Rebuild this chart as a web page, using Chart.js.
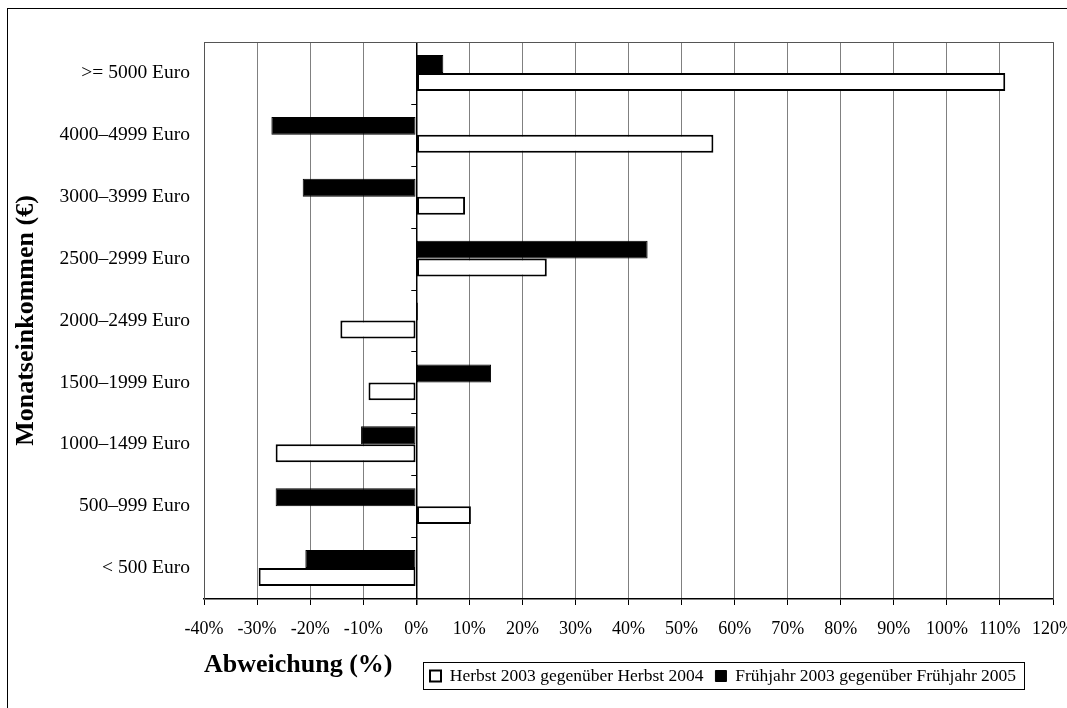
<!DOCTYPE html>
<html>
<head>
<meta charset="utf-8">
<script src="https://cdn.jsdelivr.net/npm/chart.js@4.4.1/dist/chart.umd.min.js"></script>
<style>
  html, body { margin: 0; padding: 0; background: #fff; }
  #wrap { width: 1067px; height: 708px; }
</style>
</head>
<body>
<div id="wrap"><canvas id="chart"></canvas></div>
<script>
// Werte
const categories = [
  '>= 5000 Euro', '4000–4999 Euro', '3000–3999 Euro', '2500–2999 Euro',
  '2000–2499 Euro', '1500–1999 Euro', '1000–1499 Euro', '500–999 Euro', '< 500 Euro'
];
const herbst = [111, 56, 9.2, 24.6, -14.3, -9.0, -26.5, 10.3, -29.7];
const fruehjahr = [5.1, -27.3, -21.4, 43.6, 0.3, 14.1, -10.4, -26.5, -20.9];
const seriesNames = ['Herbst 2003 gegenüber Herbst 2004', 'Frühjahr 2003 gegenüber Frühjahr 2005'];
const xMin = -40, xMax = 120, xStep = 10;

const serif = 'Liberation Serif';
const legendSize = 17.5;
const legendPad = 12;

const extras = {
  id: 'extras',
  beforeDraw(chart) {
    const ctx = chart.ctx;
    ctx.save();
    ctx.strokeStyle = '#000';
    ctx.lineWidth = 1;
    ctx.strokeRect(7.5, 8.5, chart.width + 20, chart.height + 20);
    ctx.restore();
  },
  afterLayout(chart) {
    // Legende neben den Achsentitel schieben
    const lg = chart.legend;
    const h = lg.height, w = lg.width;
    lg.top = 676 - legendPad - legendSize / 2;
    lg.bottom = lg.top + h;
    lg.left = 430 - legendPad;
    lg.right = lg.left + w;
  },
  afterDraw(chart) {
    const ctx = chart.ctx;
    const a = chart.chartArea;
    const x = chart.scales.x, y = chart.scales.y;
    ctx.save();
    // Rahmen oben und rechts
    ctx.strokeStyle = '#555';
    ctx.lineWidth = 1;
    ctx.beginPath();
    ctx.moveTo(a.left, a.top + 0.5);
    ctx.lineTo(a.right + 0.5, a.top + 0.5);
    ctx.lineTo(a.right + 0.5, a.bottom);
    ctx.stroke();
    // Teilstriche an der 0-Linie
    const x0 = x.getPixelForValue(0);
    ctx.strokeStyle = '#000';
    ctx.beginPath();
    for (let i = 0; i < categories.length - 1; i++) {
      const yy = Math.round((y.getPixelForValue(i) + y.getPixelForValue(i + 1)) / 2) + 0.5;
      ctx.moveTo(x0 - 5, yy);
      ctx.lineTo(x0, yy);
    }
    ctx.stroke();
    // Rahmen um die Legende
    const hb = chart.legend.legendHitBoxes;
    if (hb && hb.length) {
      const l = Math.min(...hb.map(b => b.left)) - 7;
      const r = Math.max(...hb.map(b => b.left + b.width)) + 8;
      const yc = hb[0].top + hb[0].height / 2;
      ctx.strokeStyle = '#000';
      ctx.strokeRect(Math.round(l) + 0.5, Math.round(yc - 14) + 0.5, Math.round(r - l), 27);
    }
    ctx.restore();
  }
};

new Chart(document.getElementById('chart'), {
  type: 'bar',
  data: {
    labels: categories,
    datasets: [
      {
        label: seriesNames[1],
        data: fruehjahr,
        backgroundColor: '#000',
        borderColor: '#000',
        borderWidth: 1,
        borderSkipped: false
      },
      {
        label: seriesNames[0],
        data: herbst,
        backgroundColor: '#fff',
        borderColor: '#000',
        borderWidth: 2,
        borderSkipped: false
      }
    ]
  },
  options: {
    indexAxis: 'y',
    responsive: true,
    maintainAspectRatio: false,
    animation: false,
    categoryPercentage: 0.58,
    barPercentage: 1.0,
    layout: { padding: { left: 8, right: 14, top: 2.5, bottom: 0 } },
    plugins: {
      tooltip: { enabled: false },
      legend: {
        position: 'top',
        align: 'start',
        reverse: true,
        labels: {
          font: { family: serif, size: legendSize },
          color: '#000',
          boxWidth: 11,
          boxHeight: 11,
          padding: legendPad
        }
      }
    },
    scales: {
      x: {
        type: 'linear',
        min: xMin,
        max: xMax,
        ticks: {
          stepSize: xStep,
          autoSkip: false,
          maxRotation: 0,
          padding: 13,
          color: '#000',
          font: { family: serif, size: 18 },
          callback: v => v + '%'
        },
        grid: {
          color: c => (c.tick && c.tick.value === 0 ? '#000' : '#808080'),
          lineWidth: c => (c.tick && c.tick.value === 0 ? 1.5 : 1),
          tickColor: '#000',
          tickLength: 6
        },
        border: { color: '#000', width: 1.5 },
        title: {
          display: true,
          text: 'Abweichung (%)',
          align: 'start',
          color: '#000',
          font: { family: serif, size: 26, weight: 'bold' },
          padding: { top: 0, bottom: 27 }
        },
        afterFit(s) {
          s.height = 109;
          s.paddingLeft = 0;
          s.paddingRight = 0;
        }
      },
      y: {
        ticks: {
          padding: 14,
          color: '#000',
          font: { family: serif, size: 19.5 }
        },
        grid: { display: false, drawTicks: false, tickLength: 0 },
        border: { color: '#555', width: 1 },
        title: {
          display: true,
          text: 'Monatseinkommen (€)',
          color: '#000',
          font: { family: serif, size: 26, weight: 'bold' },
          padding: { top: 3, bottom: 0 }
        },
        afterFit(s) {
          s.width = 196;
        }
      }
    }
  },
  plugins: [extras]
});
</script>
</body>
</html>
